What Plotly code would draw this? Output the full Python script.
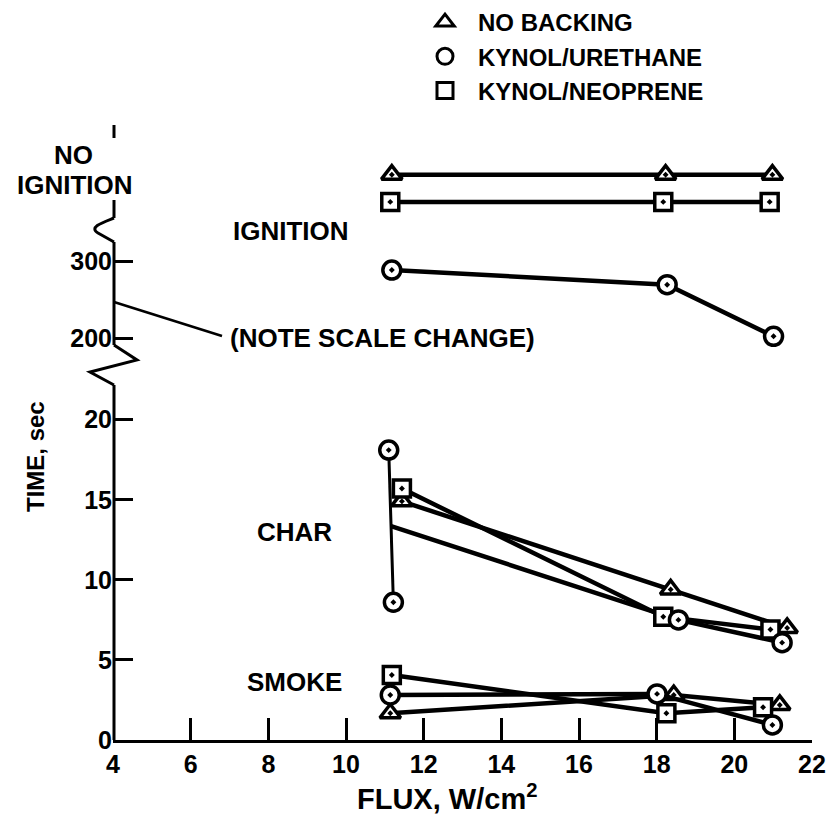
import plotly.graph_objects as go

# ---------------- DATA ----------------
SERIES = ["NO BACKING", "KYNOL/URETHANE", "KYNOL/NEOPRENE"]
NO_IGN = "NO IGNITION"

# Ignition time (sec); NO_IGN = no ignition observed
ign_flux_nobacking = [11.18, 18.23, 20.98]
ign_time_nobacking = [NO_IGN, NO_IGN, NO_IGN]
ign_flux_urethane = [11.18, 18.27, 21.01]
ign_time_urethane = [289, 270, 203]
ign_flux_neoprene = [11.14, 18.17, 20.91]
ign_time_neoprene = [NO_IGN, NO_IGN, NO_IGN]

# Char time (sec)
char_flux_nobacking = [11.44, 18.36, 21.36]
char_time_nobacking = [14.9, 9.4, 7.0]
char_flux_neoprene = [11.44, 18.17, 20.93]
char_time_neoprene = [15.7, 7.7, 6.9]
# urethane: first flux level shows a spread (max / min), then single values
char_range_flux_urethane = [11.10, 11.22]
char_range_time_urethane = [18.1, 8.6]
char_flux_urethane = [18.56, 21.23]
char_time_urethane = [7.5, 6.08]

# Smoke time (sec)
smoke_flux_nobacking = [11.14, 18.44, 21.17]
smoke_time_nobacking = [1.67, 2.81, 2.19]
smoke_flux_urethane = [11.14, 18.01, 20.98]
smoke_time_urethane = [2.81, 2.88, 0.94]
smoke_flux_neoprene = [11.18, 18.25, 20.74]
smoke_time_neoprene = [4.06, 1.67, 2.04]

x_ticks = [4, 6, 8, 10, 12, 14, 16, 18, 20, 22]
y_ticks_low = [0, 5, 10, 15, 20]
y_ticks_high = [200, 300]

# ---------------- broken-axis scale ----------------
LOW_MAX = 22.0
BREAK_BASE = 25.06      # axis position of 200 s
HIGH_SCALE = 0.0481     # axis units per second above the break
NO_IGN_LEVEL = {"NO BACKING": 35.3, "KYNOL/NEOPRENE": 33.6, "KYNOL/URETHANE": 34.5}


def to_axis(v, series=None):
    if v == NO_IGN:
        return NO_IGN_LEVEL[series]
    if v <= LOW_MAX:
        return v
    return BREAK_BASE + (v - 200) * HIGH_SCALE


# ---------------- layout geometry ----------------
W, H = 829, 828
L, R, T, B = 113, 17, 125, 88
PW, PH = W - L - R, H - T - B
FONT = "Liberation Sans"


def pxx(p):
    return (p - L) / PW


def pxy(p):
    return (H - B - p) / PH


SYMBOL = {"NO BACKING": "triangle-up", "KYNOL/URETHANE": "circle", "KYNOL/NEOPRENE": "square"}
MSIZE = {"NO BACKING": 18, "KYNOL/URETHANE": 18, "KYNOL/NEOPRENE": 17}

fig = go.Figure()


def add_series(xs, ys, series, line_w=4.5, markers=True, lines=True):
    mode = "+".join([m for m, on in (("lines", lines), ("markers", markers)) if on])
    fig.add_trace(go.Scatter(
        x=xs, y=[to_axis(v, series) for v in ys], mode=mode,
        line=dict(color="black", width=line_w),
        marker=dict(symbol=SYMBOL[series] + "-dot", size=MSIZE[series], color="white",
                    line=dict(color="black", width=3.5)),
        showlegend=False, cliponaxis=False, hoverinfo="x+y", name=series))


# ignition
add_series(ign_flux_nobacking, ign_time_nobacking, "NO BACKING")
add_series(ign_flux_neoprene, ign_time_neoprene, "KYNOL/NEOPRENE")
add_series(ign_flux_urethane, ign_time_urethane, "KYNOL/URETHANE")

# char
mean_x = sum(char_range_flux_urethane) / 2
mean_t = sum(char_range_time_urethane) / 2
add_series([mean_x] + char_flux_urethane, [mean_t] + char_time_urethane,
           "KYNOL/URETHANE", markers=False)
add_series(char_flux_nobacking, char_time_nobacking, "NO BACKING")
add_series(char_flux_neoprene, char_time_neoprene, "KYNOL/NEOPRENE")
add_series(char_range_flux_urethane, char_range_time_urethane, "KYNOL/URETHANE", line_w=3)
add_series(char_flux_urethane, char_time_urethane, "KYNOL/URETHANE", lines=False)

# smoke
add_series(smoke_flux_nobacking, smoke_time_nobacking, "NO BACKING")
add_series(smoke_flux_urethane, smoke_time_urethane, "KYNOL/URETHANE")
add_series(smoke_flux_neoprene, smoke_time_neoprene, "KYNOL/NEOPRENE")

# legend entries
for s in SERIES:
    fig.add_trace(go.Scatter(
        x=[None], y=[None], mode="markers", name=s,
        marker=dict(symbol=SYMBOL[s] + "-open", size=16, color="black",
                    line=dict(color="black", width=3))))

# ---------------- broken y axis drawing ----------------
def seg(p0, p1, w=3):
    return dict(type="line", xref="paper", yref="paper",
                x0=pxx(p0[0]), y0=pxy(p0[1]), x1=pxx(p1[0]), y1=pxy(p1[1]),
                line=dict(color="black", width=w))


def path(cmds, w=3):
    out = []
    for c, pts in cmds:
        out.append(c + " ".join(f"{pxx(a):.5f},{pxy(b):.5f}" for a, b in pts))
    return dict(type="path", xref="paper", yref="paper", path=" ".join(out),
                line=dict(color="black", width=w), fillcolor="rgba(0,0,0,0)")


AX = 114
shapes = [
    seg((AX, 125), (AX, 138)),
    seg((AX, 200), (AX, 218)),
    path([("M", [(AX, 218)]), ("C", [(104, 222), (88, 227), (98, 233)]),
          ("L", [(AX, 242)])]),
    seg((AX, 242), (AX, 345)),
    path([("M", [(AX, 345)]), ("L", [(137, 360)]), ("L", [(90, 372)]), ("L", [(AX, 385)])]),
    seg((AX, 385), (AX, 740)),
    seg((AX, 302), (222, 336), w=2.5),
]


def ann(text, x, y, xanchor="center", size=26, angle=0):
    return dict(text=text, xref="paper", yref="paper", x=pxx(x), y=pxy(y),
                xanchor=xanchor, yanchor="middle", showarrow=False, textangle=angle,
                font=dict(family=FONT, size=size, color="black", weight="bold"))


annotations = [
    ann("NO", 73, 155),
    ann("IGNITION", 75, 185),
    ann("IGNITION", 291, 231),
    ann("(NOTE SCALE CHANGE)", 228, 338, xanchor="left"),
    ann("CHAR", 294, 532),
    ann("SMOKE", 294, 682),
    ann("TIME, sec", 35, 457, size=24, angle=-90),
    ann("FLUX, W/cm<sup>2</sup>", 447, 797, size=29),
]

y_tickvals = [to_axis(v) for v in y_ticks_low + y_ticks_high]
y_ticktext = [str(v) for v in y_ticks_low + y_ticks_high]

fig.update_layout(
    width=W, height=H,
    margin=dict(l=L, r=R, t=T, b=B, autoexpand=False),
    paper_bgcolor="white", plot_bgcolor="white",
    font=dict(family=FONT, size=25, color="black", weight="bold"),
    showlegend=True,
    legend=dict(x=pxx(412), y=pxy(0), xanchor="left", yanchor="top",
                font=dict(family=FONT, size=24, color="black", weight="bold"),
                bgcolor="rgba(0,0,0,0)", tracegroupgap=0, itemwidth=56),
    xaxis=dict(range=[4, 22], tickvals=x_ticks, ticktext=[str(v) for v in x_ticks],
               showline=True, linecolor="black", linewidth=3, mirror=False,
               ticks="inside", ticklen=22, tickwidth=3, tickcolor="black",
               showgrid=False, zeroline=False,
               tickfont=dict(family=FONT, size=25, color="black", weight="bold")),
    yaxis=dict(range=[0, 38.4], tickvals=y_tickvals, ticktext=y_ticktext,
               showline=False, ticks="inside", ticklen=20, tickwidth=3, tickcolor="black",
               showgrid=False, zeroline=False,
               tickfont=dict(family=FONT, size=25, color="black", weight="bold")),
    shapes=shapes,
    annotations=annotations,
)

fig.write_html("out.html")
